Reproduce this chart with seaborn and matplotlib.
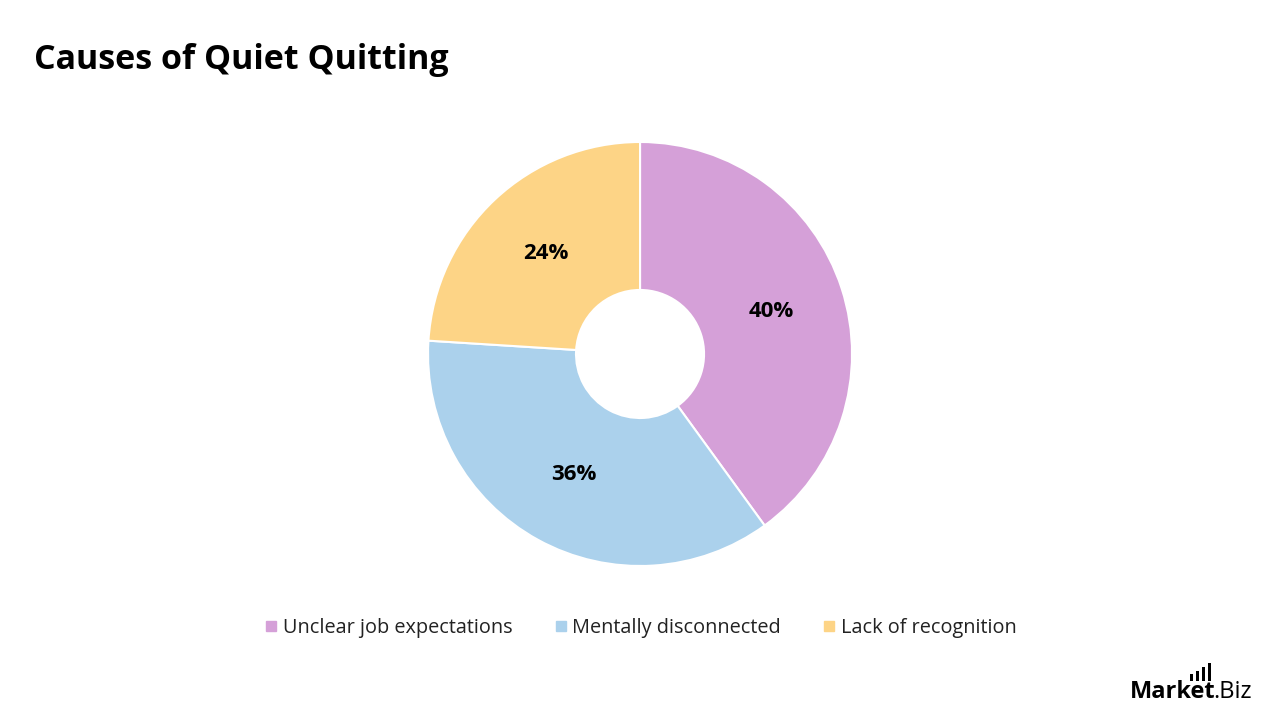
import matplotlib
matplotlib.use("Agg")
import matplotlib.pyplot as plt
from matplotlib.lines import Line2D
from matplotlib.patches import Rectangle
import seaborn as sns

categories = ["Unclear job expectations", "Mentally disconnected", "Lack of recognition"]
values = [40, 36, 24]
colors = ["#D5A0D8", "#ABD1EC", "#FDD486"]
title = "Causes of Quiet Quitting"

sns.set_theme(style="white")
plt.rcParams['font.family'] = ['Open Sans', 'DejaVu Sans']

fig = plt.figure(figsize=(12.8, 7.2), dpi=100)
fig.patch.set_facecolor("white")
ax = fig.add_axes([0.3344, 0.2139, 0.33125, 0.5889])
ax.set_facecolor("white")

wedges, texts, autotexts = ax.pie(
    values, colors=colors, startangle=90, counterclock=False, radius=1.0,
    wedgeprops=dict(width=0.698, edgecolor="white", linewidth=1.5),
    autopct=lambda p: f"{p:.0f}%", pctdistance=0.65,
    textprops=dict(fontsize=16, fontweight="bold", color="black"))
ax.set_xlim(-1, 1)
ax.set_ylim(-1, 1)
ax.set_aspect("equal")
ax.axis("off")

fig.text(34 / 1280, 1 - 60 / 720, title, fontsize=24.5, fontweight="bold",
         va="center", ha="left", color="black")

handles = [Line2D([0], [0], marker="s", linestyle="none", markersize=7,
                  markerfacecolor=c, markeredgecolor=c) for c in colors]
fig.legend(handles, categories, loc="center", bbox_to_anchor=(0.5, 1 - 628 / 720),
           ncol=3, frameon=False, fontsize=14.3, handletextpad=0.2,
           columnspacing=2.0, handlelength=0.8, labelcolor="#222222")

# logo
t1 = fig.text(1130 / 1280, 1 - 692 / 720, "Market", fontsize=17, fontweight="bold",
              ha="left", va="center", color="black")
fig.canvas.draw()
bb = t1.get_window_extent()
x_end = bb.x1 / 1280
fig.text(x_end - 2 / 1280, 1 - 692 / 720, ".Biz", fontsize=17, fontweight="normal",
         ha="left", va="center", color="black")
for i, h in enumerate([7, 10, 14, 18]):
    fig.patches.append(Rectangle(((1190 + i * 6) / 1280, (720 - 681) / 720), 3 / 1280, h / 720,
                                 transform=fig.transFigure, facecolor="black", edgecolor="none"))

fig.savefig("out.png", dpi=100, facecolor="white")
